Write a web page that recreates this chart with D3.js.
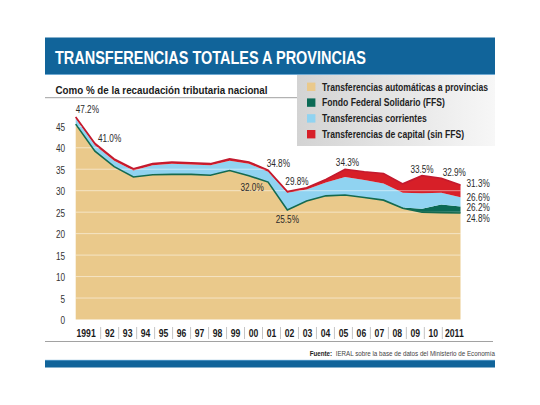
<!DOCTYPE html>
<html>
<head>
<meta charset="utf-8">
<script src="https://cdn.jsdelivr.net/npm/d3@7/dist/d3.min.js"></script>
<style>
    body { margin: 0; background: #fff; }
    svg { display: block; }
    text { font-family: "Liberation Sans", Arial, sans-serif; }
</style>
</head>
<body>
<svg class="area-chart"></svg>
<script>
'use strict';

// data (% of national tax collection)
var years = [1991, 1992, 1993, 1994, 1995, 1996, 1997, 1998, 1999, 2000, 2001,
             2002, 2003, 2004, 2005, 2006, 2007, 2008, 2009, 2010, 2011];
var yearLabels = ['1991', '92', '93', '94', '95', '96', '97', '98', '99', '00', '01',
                  '02', '03', '04', '05', '06', '07', '08', '09', '10', '2011'];
var automaticas = [45.5, 39.2, 35.6, 33.2, 33.7, 33.8, 33.8, 33.6, 34.7, 33.5, 32.0,
                   25.5, 27.6, 28.8, 29.0, 28.4, 27.8, 25.9, 25.0, 24.9, 24.8];
var ffs = [0, 0, 0, 0, 0, 0, 0, 0, 0, 0, 0,
           0, 0, 0, 0, 0, 0, 0.2, 0.8, 1.9, 1.5];
var corrientes = [1.3, 1.4, 1.4, 1.5, 2.2, 2.5, 2.3, 2.3, 2.3, 2.8, 2.4,
                  4.0, 2.7, 3.1, 4.2, 4.1, 3.9, 3.4, 3.6, 2.7, 2.2];
var capital = [0.4, 0.4, 0.4, 0.4, 0.4, 0.4, 0.4, 0.4, 0.4, 0.4, 0.4,
               0.3, 0.4, 0.7, 1.8, 1.9, 2.3, 2.1, 4.1, 3.4, 2.8];
var yTicks = [0, 5, 10, 15, 20, 25, 30, 35, 40, 45];

var seriesKeys = ['auto', 'ffs', 'corr', 'cap'];
var seriesNames = ['Transferencias automáticas a provincias', 'Fondo Federal Solidario (FFS)',
                   'Transferencias corrientes', 'Transferencias de capital (sin FFS)'];

// annotated values: year, text, layer whose top edge it refers to
var notes = [
    [1991, '47.2%', 'cap'], [1992, '41.0%', 'cap'], [2001, '32.0%', 'auto'],
    [2001, '34.8%', 'cap'], [2002, '29.8%', 'cap'], [2002, '25.5%', 'auto'],
    [2005, '34.3%', 'cap'], [2009, '33.5%', 'cap'], [2010, '32.9%', 'cap'],
    [2011, '31.3%', 'cap'], [2011, '26.6%', 'corr'], [2011, '26.2%', 'ffs'],
    [2011, '24.8%', 'auto']
];

// no narrow font installed: squeeze Liberation Sans to Arial Narrow proportions
var condense = function(sel, k) {
    sel.each(function() {
        var w = this.getComputedTextLength();
        d3.select(this).attr('textLength', w * k).attr('lengthAdjust', 'spacingAndGlyphs');
    });
};

var drawChart = function() {
    var svgWidth = 540,
        svgHeight = 405,
        narrow = 0.82,
        frame = { left: 45, right: 495 },
        colors = { auto: '#eac98b', ffs: '#0b6a55', corr: '#90d3f1', cap: '#d71f28' },
        blue = '#11649a';

    var svg = d3.select('svg.area-chart')
        .attr('width', svgWidth)
        .attr('height', svgHeight);

    var defs = svg.append('defs');
    var grad = defs.append('linearGradient').attr('id', 'legend-bg');
    grad.append('stop').attr('offset', '0%').attr('stop-color', '#d3d3d3');
    grad.append('stop').attr('offset', '100%').attr('stop-color', '#f7f7f7');

    // header
    svg.append('rect').attr('x', frame.left).attr('y', 37.5)
        .attr('width', frame.right - frame.left).attr('height', 37.5).attr('fill', blue);
    svg.append('line').attr('x1', frame.left).attr('x2', frame.right)
        .attr('y1', 74.5).attr('y2', 74.5).attr('stroke', '#6fa9d2').attr('stroke-width', 1);
    svg.append('text').attr('x', 55).attr('y', 64)
        .attr('fill', '#fff').attr('font-size', 18).attr('font-weight', 'bold')
        .attr('textLength', 311).attr('lengthAdjust', 'spacingAndGlyphs')
        .text('TRANSFERENCIAS TOTALES A PROVINCIAS');

    svg.append('text').attr('x', 55.5).attr('y', 94)
        .attr('fill', '#1a1a1a').attr('font-size', 10).attr('font-weight', 'bold')
        .attr('textLength', 212).attr('lengthAdjust', 'spacingAndGlyphs')
        .text('Como % de la recaudación tributaria nacional');
    svg.append('line').attr('x1', frame.left).attr('x2', 297)
        .attr('y1', 97.7).attr('y2', 97.7).attr('stroke', '#888').attr('stroke-width', 0.8);

    // scales
    var xScale = d3.scaleLinear().domain([1991, 2011]).range([75.7, 460.5]);
    var yScale = d3.scaleLinear().domain([0, 45]).range([319.5, 126.3]);

    var rows = years.map(function(yr, i) {
        return { year: yr, auto: automaticas[i], ffs: ffs[i], corr: corrientes[i], cap: capital[i] };
    });
    var stacked = d3.stack().keys(seriesKeys)(rows);
    var byKey = {};
    stacked.forEach(function(s) { byKey[s.key] = s; });

    var area = d3.area()
        .x(function(d) { return xScale(d.data.year); })
        .y0(function(d) { return yScale(d[0]); })
        .y1(function(d) { return yScale(d[1]); });
    var topLine = d3.line()
        .x(function(d) { return xScale(d.data.year); })
        .y(function(d) { return yScale(d[1]); });

    var g = svg.append('g');
    g.selectAll('path.layer').data(stacked).enter().append('path')
        .attr('class', 'layer')
        .attr('d', area)
        .attr('fill', function(d) { return colors[d.key]; });

    // light gridlines over the fill
    g.selectAll('line.grid').data(yTicks.slice(1)).enter().append('line')
        .attr('class', 'grid')
        .attr('x1', xScale(1991)).attr('x2', xScale(2011))
        .attr('y1', function(d) { return yScale(d); })
        .attr('y2', function(d) { return yScale(d); })
        .attr('stroke', '#fff').attr('stroke-opacity', 0.5).attr('stroke-width', 1);

    g.append('path').attr('d', topLine(byKey.auto))
        .attr('fill', 'none').attr('stroke', '#146a4f').attr('stroke-width', 1.6);
    g.append('path').attr('d', topLine(byKey.cap))
        .attr('fill', 'none').attr('stroke', '#c31a2e').attr('stroke-width', 1.6);

    // y axis
    var yAxis = d3.axisLeft(yScale).tickValues(yTicks).tickSize(0).tickPadding(0);
    var yg = svg.append('g').attr('transform', 'translate(65,1)').call(yAxis);
    yg.select('.domain').remove();
    yg.selectAll('text').attr('font-size', 10).attr('fill', '#333')
        .attr('font-family', '"Liberation Sans", Arial, sans-serif')
        .call(condense, narrow);

    // x labels sit in their own slots, a bit tighter than the data
    var band = d3.scaleBand().domain(yearLabels).range([82.7, 460.3]);
    var last = yearLabels.length - 1;
    svg.selectAll('text.xlab').data(yearLabels).enter().append('text')
        .attr('class', 'xlab')
        .attr('x', function(d, i) {
            if (i === 0) return band(d) + band.bandwidth() - 5;
            if (i === last) return band(d) + 2.7;
            return band(d) + band.bandwidth() / 2;
        })
        .attr('y', 337)
        .attr('text-anchor', function(d, i) { return i === 0 ? 'end' : (i === last ? 'start' : 'middle'); })
        .attr('font-size', 10.5).attr('font-weight', 'bold').attr('fill', '#1a1a1a')
        .text(function(d) { return d; })
        .call(condense, narrow);
    svg.selectAll('line.sep').data(yearLabels.slice(1)).enter().append('line')
        .attr('class', 'sep')
        .attr('x1', function(d) { return band(d); }).attr('x2', function(d) { return band(d); })
        .attr('y1', 327).attr('y2', 339)
        .attr('stroke', '#b5b5b5').attr('stroke-width', 0.8);

    svg.append('line').attr('x1', frame.left).attr('x2', 493)
        .attr('y1', 341.5).attr('y2', 341.5).attr('stroke', '#8a8a8a').attr('stroke-width', 0.8);

    // value labels
    var place = {
        '47.2%': [0, -3.5, 'start'], '41.0%': [3, -1, 'start'], '32.0%': [-4.4, 9, 'end'],
        '34.8%': [-1.4, -3.4, 'start'], '29.8%': [-2, -7, 'start'], '25.5%': [0, 13.4, 'middle'],
        '34.3%': [2.4, -3, 'middle'], '33.5%': [0, -3, 'middle'], '32.9%': [1.4, -2.6, 'start'],
        '31.3%': [6, 1.6, 'start'], '26.6%': [6, 3.8, 'start'], '26.2%': [6, 4.4, 'start'],
        '24.8%': [6, 9.4, 'start']
    };
    svg.selectAll('text.note').data(notes).enter().append('text')
        .attr('class', 'note')
        .attr('x', function(d) { return xScale(d[0]) + place[d[1]][0]; })
        .attr('y', function(d) {
            var pt = byKey[d[2]][years.indexOf(d[0])];
            return yScale(pt[1]) + place[d[1]][1];
        })
        .attr('text-anchor', function(d) { return place[d[1]][2]; })
        .attr('font-size', 10).attr('fill', '#2a2a2a')
        .text(function(d) { return d[1]; })
        .call(condense, narrow);

    // legend
    var lg = svg.append('g');
    lg.append('rect').attr('x', 297).attr('y', 75).attr('width', frame.right - 297).attr('height', 71)
        .attr('fill', 'url(#legend-bg)');
    var item = lg.selectAll('g.item').data(seriesKeys).enter().append('g')
        .attr('class', 'item')
        .attr('transform', function(d, i) { return 'translate(307,' + (86.8 + i * 15.8) + ')'; });
    item.append('rect').attr('x', 0).attr('y', -4.2).attr('width', 8.4).attr('height', 8.4)
        .attr('fill', function(d) { return colors[d]; });
    item.append('text').attr('x', 15).attr('y', 3.7)
        .attr('font-size', 10.5).attr('font-weight', 'bold').attr('fill', '#1f1f1f')
        .text(function(d, i) { return seriesNames[i]; })
        .call(condense, narrow);

    // footer: source text, bold lead-in placed against it
    var srcRest = svg.append('text').attr('x', frame.right).attr('y', 355.5)
        .attr('text-anchor', 'end').attr('font-size', 7.6).attr('fill', '#444')
        .text('IERAL sobre la base de datos del Ministerio de Economía')
        .call(condense, narrow);
    var restW = +srcRest.attr('textLength');
    svg.append('text').attr('x', frame.right - restW - 3.5).attr('y', 355.5)
        .attr('text-anchor', 'end').attr('font-size', 7.6).attr('font-weight', 'bold').attr('fill', '#222')
        .text('Fuente:')
        .call(condense, narrow);
    svg.append('rect').attr('x', frame.left).attr('y', 360)
        .attr('width', frame.right - frame.left).attr('height', 7.5).attr('fill', blue);
    svg.append('line').attr('x1', frame.left).attr('x2', frame.right)
        .attr('y1', 360.3).attr('y2', 360.3).attr('stroke', '#5fa2cf').attr('stroke-width', 0.8);
};

drawChart();
</script>
</body>
</html>
